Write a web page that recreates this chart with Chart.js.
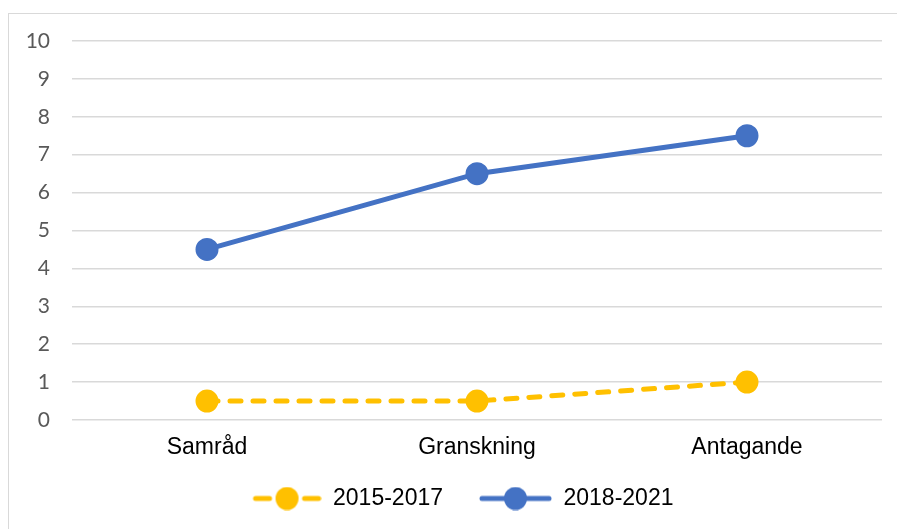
<!DOCTYPE html>
<html>
<head>
<meta charset="utf-8">
<script src="https://cdn.jsdelivr.net/npm/chart.js@4/dist/chart.umd.min.js"></script>
<style>
  html, body { margin: 0; padding: 0; background: #fff; }
  #wrap { position: relative; width: 897px; height: 529px; }
</style>
</head>
<body>
<div id="wrap"><canvas id="c" width="897" height="529"></canvas></div>
<script>
const categories = ['Samråd', 'Granskning', 'Antagande'];
const series2015 = [0.5, 0.5, 1];
const series2018 = [4.5, 6.5, 7.5];
const seriesNames = ['2015-2017', '2018-2021'];
const yTicks = [0, 1, 2, 3, 4, 5, 6, 7, 8, 9, 10];

const YELLOW = '#FFC000';
const BLUE = '#4472C4';

function makeIcon(color, dashed, offset, len) {
  const W = 97, H = 24;
  const cv = document.createElement('canvas');
  cv.width = W; cv.height = H;
  const ctx = cv.getContext('2d');
  const cy = H / 2, cx = offset + len / 2;
  ctx.strokeStyle = color; ctx.lineWidth = 5; ctx.lineCap = 'round';
  ctx.beginPath();
  if (dashed) {
    ctx.moveTo(offset + 3, cy); ctx.lineTo(offset + 17, cy);
    ctx.moveTo(offset + len - 17, cy); ctx.lineTo(offset + len - 3, cy);
  } else {
    ctx.moveTo(offset + 3, cy); ctx.lineTo(offset + len - 3, cy);
  }
  ctx.stroke();
  ctx.fillStyle = color;
  ctx.beginPath(); ctx.arc(cx, cy, 11.5, 0, Math.PI * 2); ctx.fill();
  return cv;
}
const icons = [makeIcon(YELLOW, true, 28, 69), makeIcon(BLUE, false, 24, 73)];

const framePlugin = {
  id: 'frame',
  beforeDraw(chart) {
    const ctx = chart.ctx;
    ctx.save();
    ctx.strokeStyle = '#d9d9d9'; ctx.lineWidth = 1;
    ctx.strokeRect(8.5, 13.5, 2000, 2000);
    ctx.restore();
  }
};

new Chart(document.getElementById('c'), {
  type: 'line',
  data: {
    labels: categories,
    datasets: [
      {
        label: seriesNames[0], data: series2015,
        borderColor: YELLOW, backgroundColor: YELLOW,
        borderWidth: 5, borderDash: [11, 12], borderCapStyle: 'round',
        pointRadius: 10.5, pointBorderWidth: 2, pointBorderColor: YELLOW, pointBackgroundColor: YELLOW,
        pointHoverRadius: 10.5, tension: 0, fill: false, order: 2
      },
      {
        label: seriesNames[1], data: series2018,
        borderColor: BLUE, backgroundColor: BLUE,
        borderWidth: 5, borderCapStyle: 'round',
        pointRadius: 10.5, pointBorderWidth: 2, pointBorderColor: BLUE, pointBackgroundColor: BLUE,
        pointHoverRadius: 10.5, tension: 0, fill: false, order: 1
      }
    ]
  },
  options: {
    responsive: false,
    animation: false,
    devicePixelRatio: 1,
    layout: { padding: { left: 16, right: 15, top: 41, bottom: 9 } },
    plugins: {
      tooltip: { enabled: false },
      legend: {
        display: true,
        position: 'bottom',
        labels: {
          usePointStyle: true,
          pointStyleWidth: 97,
          boxHeight: 23,
          padding: 12,
          color: '#000',
          font: { family: '"Liberation Sans", Arial, sans-serif', size: 23 },
          generateLabels: (chart) => chart.data.datasets.map((ds, i) => ({
            text: ds.label,
            pointStyle: icons[i],
            fillStyle: 'transparent', strokeStyle: 'transparent', lineWidth: 0,
            fontColor: '#000', hidden: false, datasetIndex: i
          }))
        }
      }
    },
    scales: {
      x: {
        offset: true,
        grid: { display: false, drawTicks: false },
        border: { display: false },
        ticks: {
          color: '#000', padding: 14,
          font: { family: '"Liberation Sans", Arial, sans-serif', size: 23 }
        },
        afterFit(scale) { scale.height = 55; }
      },
      y: {
        min: 0, max: 10,
        afterBuildTicks(scale) { scale.ticks = yTicks.map(v => ({ value: v })); },
        grid: { color: '#d9d9d9', lineWidth: 1.5, drawTicks: false },
        border: { display: false },
        ticks: {
          color: '#595959', padding: 22,
          font: { family: 'Lato, "Liberation Sans", sans-serif', size: 21 }
        },
        afterFit(scale) { scale.width = 56; }
      }
    }
  },
  plugins: [framePlugin]
});
</script>
</body>
</html>
